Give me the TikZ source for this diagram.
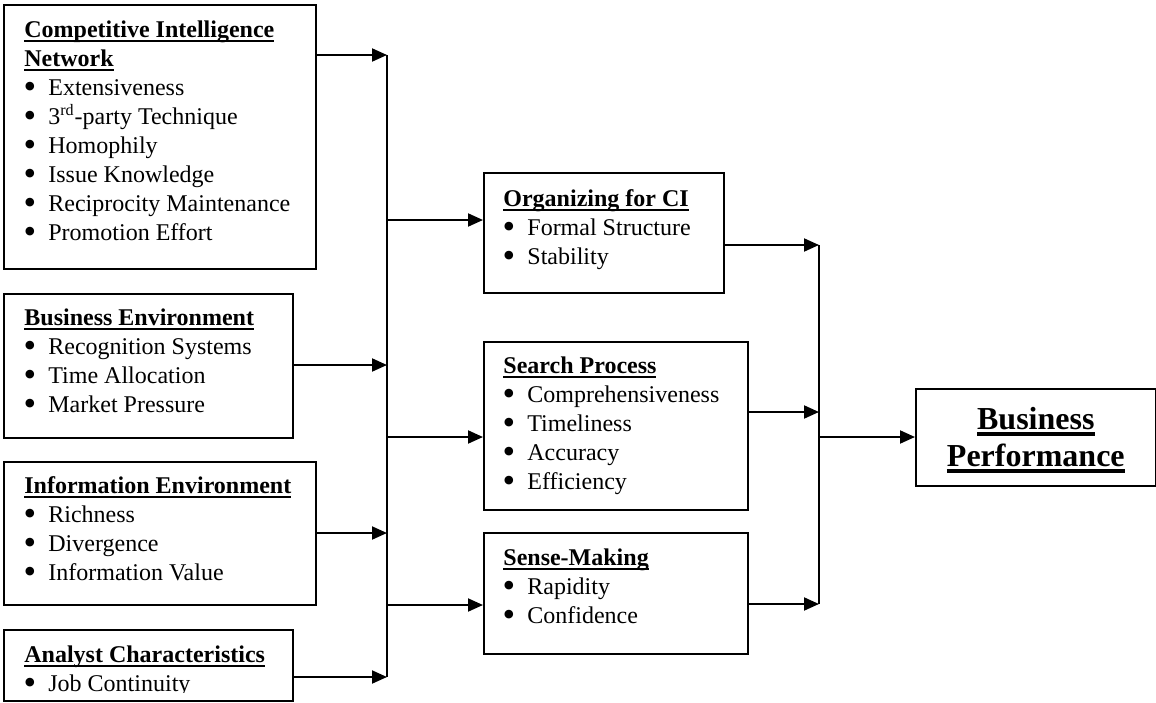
\documentclass[tikz,border=0pt]{standalone}
\usepackage{fontspec}
\setmainfont{Liberation Serif}
\usepackage{tikz}
\usetikzlibrary{
  arrows.meta,   % Triangle arrow tips
  calc,          % offsets from box corners
  positioning    % relative placement
}
% underlined bold heading, rule cuts through descenders
\newcommand{\hd}[1]{\textbf{\setbox0\hbox{#1}\rule{0pt}{0.9em}\rlap{\rule[-0.2em]{\wd0}{0.11em}}\box0}}
% bullet item
\newcommand{\itm}[1]{\makebox[12pt][l]{\hspace{-0.4pt}\raisebox{-1.6pt}[0pt][0pt]{\scalebox{1.5}{\textbullet}}}#1}
\tikzset{
  factor box/.style={
    draw=black,
    line width=0.8pt,
    anchor=north west,
    inner sep=0pt
  },
  box text/.style={
    anchor=north west,
    inner sep=0pt,
    align=left,
    font=\fontsize{12}{14.5}\selectfont
  },
  flow/.style={
    -{Triangle[length=7.5pt,width=6.5pt]},
    line width=1pt
  },
  bus/.style={
    line width=1pt
  }
}

\begin{document}
\begin{tikzpicture}[x=0.5pt, y=-0.5pt]
    \useasboundingbox (0,0) rectangle (1156,702);

    % left column: antecedent factors
    \node[factor box, minimum width=156pt, minimum height=132pt] (cin) at (3,4) {};
    \node[box text] (cin-t) at ($(cin.north west)+(21,11.5)$)
      {\hd{Competitive Intelligence}\\ \hd{Network}\\
       \itm{Extensiveness}\\ \itm{3\textsuperscript{rd}-party Technique}\\
       \itm{Homophily}\\ \itm{Issue Knowledge}\\
       \itm{Reciprocity Maintenance}\\ \itm{Promotion Effort}};

    \node[factor box, minimum width=144.5pt, minimum height=72pt] (be) at (3,293) {};
    \node[box text] (be-t) at ($(be.north west)+(21,10.5)$)
      {\hd{Business Environment}\\ \itm{Recognition Systems}\\
       \itm{Time Allocation}\\ \itm{Market Pressure}};

    \node[factor box, minimum width=156pt, minimum height=71.5pt] (ie) at (3,461) {};
    \node[box text] (ie-t) at ($(ie.north west)+(21,10.5)$)
      {\hd{Information Environment}\\ \itm{Richness}\\
       \itm{Divergence}\\ \itm{Information Value}};

    \node[factor box, minimum width=144.5pt, minimum height=35.5pt] (ac) at (3,629) {};
    \begin{scope}
      \clip (ac.north west) rectangle ($(ac.south east)+(0,-9)$);
      \node[box text] (ac-t) at ($(ac.north west)+(21,11.5)$)
        {\hd{Analyst Characteristics}\\ \itm{Job Continuity}};
    \end{scope}

    % middle column: CI process
    \node[factor box, minimum width=120pt, minimum height=60pt] (org) at (483,172) {};
    \node[box text] (org-t) at ($(org.north west)+(20,12.5)$)
      {\hd{Organizing for CI}\\ \itm{Formal Structure}\\ \itm{Stability}};

    \node[factor box, minimum width=132pt, minimum height=84pt] (sp) at (483,341) {};
    \node[box text] (sp-t) at ($(sp.north west)+(20,10.5)$)
      {\hd{Search Process}\\ \itm{Comprehensiveness}\\ \itm{Timeliness}\\
       \itm{Accuracy}\\ \itm{Efficiency}};

    \node[factor box, minimum width=132pt, minimum height=60.5pt] (sm) at (483,532) {};
    \node[box text] (sm-t) at ($(sm.north west)+(20,11.5)$)
      {\hd{Sense-Making}\\ \itm{Rapidity}\\ \itm{Confidence}};

    % outcome
    \node[factor box, minimum width=120pt, minimum height=48.5pt] (bp) at (915,388) {};
    \node[box text, anchor=north, align=center,
          font=\fontsize{16}{17}\selectfont] (bp-t) at ($(bp.north)+(0,12)$)
      {\hd{Business}\\ \hd{Performance}};

    % left bus
    \coordinate (l1) at (387,55);
    \coordinate (l2) at (387,365);
    \coordinate (l3) at (387,533);
    \coordinate (l4) at (387,677);
    \coordinate (m1) at (387,220);
    \coordinate (m2) at (387,437);
    \coordinate (m3) at (387,605);
    \draw[bus] (l1) -- (l4);
    \draw[flow] (l1 -| cin.east) -- (l1);
    \draw[flow] (l2 -| be.east) -- (l2);
    \draw[flow] (l3 -| ie.east) -- (l3);
    \draw[flow] (l4 -| ac.east) -- (l4);
    \draw[flow] (m1) -- (m1 -| org.west);
    \draw[flow] (m2) -- (m2 -| sp.west);
    \draw[flow] (m3) -- (m3 -| sm.west);

    % right bus
    \coordinate (r1) at (819,245);
    \coordinate (r2) at (819,412);
    \coordinate (r3) at (819,604);
    \coordinate (r0) at (819,437);
    \draw[bus] (r1) -- (r3);
    \draw[flow] (r1 -| org.east) -- (r1);
    \draw[flow] (r2 -| sp.east) -- (r2);
    \draw[flow] (r3 -| sm.east) -- (r3);
    \draw[flow] (r0) -- (r0 -| bp.west);

\end{tikzpicture}
\end{document}
